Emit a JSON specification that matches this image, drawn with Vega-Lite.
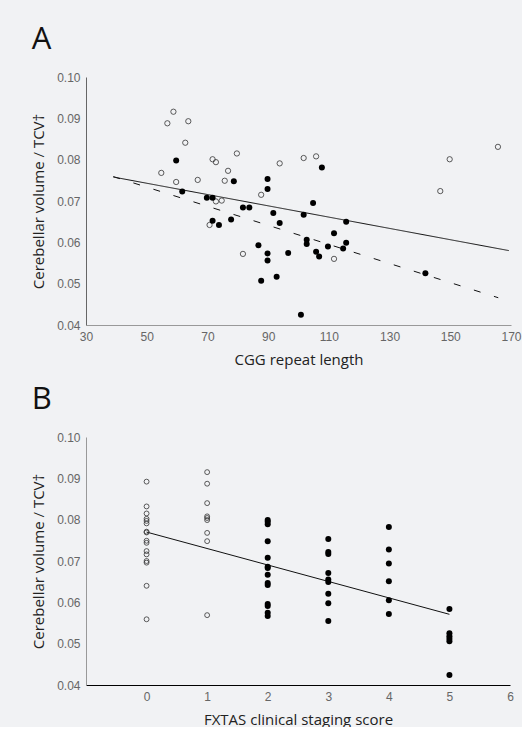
{
  "$schema": "https://vega.github.io/schema/vega-lite/v6.json",
  "background": "#f1f2f4",
  "padding": {"left": 31, "top": 24, "right": 0, "bottom": 0},
  "spacing": 17,
  "config": {
    "view": {"stroke": null},
    "font": "Open Sans",
    "axis": {
      "grid": false, "ticks": false, "labelFlush": false,
      "labelFont": "Liberation Sans", "labelFontSize": 12, "labelColor": "#666", "labelPadding": 6,
      "titleFont": "Open Sans", "titleFontWeight": "normal", "titleFontSize": 15, "titleColor": "#222", "titlePadding": 10,
      "domainColor": "#777", "domainWidth": 1
    },
    "title": {"fontSize": 31, "fontWeight": "normal", "anchor": "start", "frame": "bounds", "color": "#111", "font": "Open Sans"}
  },
  "datasets": {
    "cgg": [
      {"cgg": 54.8, "v": 0.0768, "g": "open"},
      {"cgg": 56.8, "v": 0.0888, "g": "open"},
      {"cgg": 58.8, "v": 0.0916, "g": "open"},
      {"cgg": 59.7, "v": 0.0746, "g": "open"},
      {"cgg": 62.7, "v": 0.0841, "g": "open"},
      {"cgg": 63.7, "v": 0.0893, "g": "open"},
      {"cgg": 66.8, "v": 0.0751, "g": "open"},
      {"cgg": 70.7, "v": 0.0642, "g": "open"},
      {"cgg": 71.7, "v": 0.0801, "g": "open"},
      {"cgg": 72.8, "v": 0.0794, "g": "open"},
      {"cgg": 72.8, "v": 0.0699, "g": "open"},
      {"cgg": 74.7, "v": 0.0701, "g": "open"},
      {"cgg": 75.7, "v": 0.0749, "g": "open"},
      {"cgg": 76.8, "v": 0.0773, "g": "open"},
      {"cgg": 79.7, "v": 0.0815, "g": "open"},
      {"cgg": 81.7, "v": 0.0572, "g": "open"},
      {"cgg": 87.7, "v": 0.0715, "g": "open"},
      {"cgg": 93.8, "v": 0.0791, "g": "open"},
      {"cgg": 101.7, "v": 0.0804, "g": "open"},
      {"cgg": 105.8, "v": 0.0808, "g": "open"},
      {"cgg": 111.7, "v": 0.0560, "g": "open"},
      {"cgg": 146.7, "v": 0.0724, "g": "open"},
      {"cgg": 149.8, "v": 0.0801, "g": "open"},
      {"cgg": 165.7, "v": 0.0831, "g": "open"},
      {"cgg": 59.7, "v": 0.0798, "g": "filled"},
      {"cgg": 61.7, "v": 0.0723, "g": "filled"},
      {"cgg": 69.8, "v": 0.0708, "g": "filled"},
      {"cgg": 71.7, "v": 0.0708, "g": "filled"},
      {"cgg": 71.7, "v": 0.0652, "g": "filled"},
      {"cgg": 73.8, "v": 0.0642, "g": "filled"},
      {"cgg": 77.8, "v": 0.0655, "g": "filled"},
      {"cgg": 78.7, "v": 0.0748, "g": "filled"},
      {"cgg": 81.7, "v": 0.0684, "g": "filled"},
      {"cgg": 83.8, "v": 0.0684, "g": "filled"},
      {"cgg": 86.8, "v": 0.0593, "g": "filled"},
      {"cgg": 87.7, "v": 0.0507, "g": "filled"},
      {"cgg": 89.8, "v": 0.0753, "g": "filled"},
      {"cgg": 89.8, "v": 0.0729, "g": "filled"},
      {"cgg": 89.8, "v": 0.0573, "g": "filled"},
      {"cgg": 89.8, "v": 0.0556, "g": "filled"},
      {"cgg": 91.7, "v": 0.0671, "g": "filled"},
      {"cgg": 92.8, "v": 0.0517, "g": "filled"},
      {"cgg": 93.8, "v": 0.0647, "g": "filled"},
      {"cgg": 96.6, "v": 0.0574, "g": "filled"},
      {"cgg": 100.8, "v": 0.0425, "g": "filled"},
      {"cgg": 101.7, "v": 0.0667, "g": "filled"},
      {"cgg": 102.7, "v": 0.0606, "g": "filled"},
      {"cgg": 102.7, "v": 0.0596, "g": "filled"},
      {"cgg": 104.8, "v": 0.0695, "g": "filled"},
      {"cgg": 105.8, "v": 0.0577, "g": "filled"},
      {"cgg": 106.8, "v": 0.0566, "g": "filled"},
      {"cgg": 107.7, "v": 0.0781, "g": "filled"},
      {"cgg": 109.7, "v": 0.0590, "g": "filled"},
      {"cgg": 111.7, "v": 0.0622, "g": "filled"},
      {"cgg": 114.7, "v": 0.0585, "g": "filled"},
      {"cgg": 115.7, "v": 0.0650, "g": "filled"},
      {"cgg": 115.7, "v": 0.0599, "g": "filled"},
      {"cgg": 141.8, "v": 0.0525, "g": "filled"}
    ],
    "cggFit": [
      {"cgg": 39, "v": 0.0758, "fit": "all"},
      {"cgg": 169.3, "v": 0.0580, "fit": "all"},
      {"cgg": 39, "v": 0.0759, "fit": "dashed"},
      {"cgg": 165.8, "v": 0.0466, "fit": "dashed"}
    ],
    "stage": [
      {"s": 0, "v": 0.0892, "g": "open"},
      {"s": 0, "v": 0.0832, "g": "open"},
      {"s": 0, "v": 0.0815, "g": "open"},
      {"s": 0, "v": 0.0802, "g": "open"},
      {"s": 0, "v": 0.0797, "g": "open"},
      {"s": 0, "v": 0.0791, "g": "open"},
      {"s": 0, "v": 0.0771, "g": "open"},
      {"s": 0, "v": 0.0769, "g": "open"},
      {"s": 0, "v": 0.0749, "g": "open"},
      {"s": 0, "v": 0.0744, "g": "open"},
      {"s": 0, "v": 0.0724, "g": "open"},
      {"s": 0, "v": 0.0716, "g": "open"},
      {"s": 0, "v": 0.0700, "g": "open"},
      {"s": 0, "v": 0.0696, "g": "open"},
      {"s": 0, "v": 0.0640, "g": "open"},
      {"s": 0, "v": 0.0559, "g": "open"},
      {"s": 1, "v": 0.0915, "g": "open"},
      {"s": 1, "v": 0.0887, "g": "open"},
      {"s": 1, "v": 0.0840, "g": "open"},
      {"s": 1, "v": 0.0808, "g": "open"},
      {"s": 1, "v": 0.0804, "g": "open"},
      {"s": 1, "v": 0.0799, "g": "open"},
      {"s": 1, "v": 0.0768, "g": "open"},
      {"s": 1, "v": 0.0748, "g": "open"},
      {"s": 1, "v": 0.0569, "g": "open"},
      {"s": 2, "v": 0.0799, "g": "filled"},
      {"s": 2, "v": 0.0795, "g": "filled"},
      {"s": 2, "v": 0.0789, "g": "filled"},
      {"s": 2, "v": 0.0748, "g": "filled"},
      {"s": 2, "v": 0.0708, "g": "filled"},
      {"s": 2, "v": 0.0686, "g": "filled"},
      {"s": 2, "v": 0.0683, "g": "filled"},
      {"s": 2, "v": 0.0667, "g": "filled"},
      {"s": 2, "v": 0.0647, "g": "filled"},
      {"s": 2, "v": 0.0642, "g": "filled"},
      {"s": 2, "v": 0.0596, "g": "filled"},
      {"s": 2, "v": 0.0591, "g": "filled"},
      {"s": 2, "v": 0.0575, "g": "filled"},
      {"s": 2, "v": 0.0567, "g": "filled"},
      {"s": 3, "v": 0.0753, "g": "filled"},
      {"s": 3, "v": 0.0722, "g": "filled"},
      {"s": 3, "v": 0.0717, "g": "filled"},
      {"s": 3, "v": 0.0671, "g": "filled"},
      {"s": 3, "v": 0.0655, "g": "filled"},
      {"s": 3, "v": 0.0649, "g": "filled"},
      {"s": 3, "v": 0.0621, "g": "filled"},
      {"s": 3, "v": 0.0598, "g": "filled"},
      {"s": 3, "v": 0.0555, "g": "filled"},
      {"s": 4, "v": 0.0782, "g": "filled"},
      {"s": 4, "v": 0.0728, "g": "filled"},
      {"s": 4, "v": 0.0694, "g": "filled"},
      {"s": 4, "v": 0.0651, "g": "filled"},
      {"s": 4, "v": 0.0605, "g": "filled"},
      {"s": 4, "v": 0.0572, "g": "filled"},
      {"s": 5, "v": 0.0584, "g": "filled"},
      {"s": 5, "v": 0.0525, "g": "filled"},
      {"s": 5, "v": 0.0518, "g": "filled"},
      {"s": 5, "v": 0.0512, "g": "filled"},
      {"s": 5, "v": 0.0506, "g": "filled"},
      {"s": 5, "v": 0.0424, "g": "filled"}
    ],
    "stageFit": [
      {"s": 0, "v": 0.0770},
      {"s": 5, "v": 0.0571}
    ]
  },
  "vconcat": [
    {
      "title": {"text": "A", "offset": 15},
      "width": 425,
      "height": 248,
      "layer": [
        {
          "data": {"name": "cggFit"},
          "mark": {"type": "line", "color": "#111", "strokeWidth": 1},
          "encoding": {
            "x": {"field": "cgg", "type": "quantitative"},
            "y": {"field": "v", "type": "quantitative"},
            "detail": {"field": "fit"},
            "strokeDash": {"field": "fit", "type": "nominal", "scale": {"domain": ["all", "dashed"], "range": [[1, 0], [7, 14]]}, "legend": null}
          }
        },
        {
          "data": {"name": "cgg"},
          "transform": [{"filter": "datum.g == 'open'"}],
          "mark": {"type": "point", "shape": "circle", "filled": false, "color": "#333", "strokeWidth": 0.8, "size": 28, "opacity": 1},
          "encoding": {
            "x": {"field": "cgg", "type": "quantitative"},
            "y": {"field": "v", "type": "quantitative"}
          }
        },
        {
          "data": {"name": "cgg"},
          "transform": [{"filter": "datum.g == 'filled'"}],
          "mark": {"type": "circle", "color": "#000", "size": 36, "opacity": 1},
          "encoding": {
            "x": {"field": "cgg", "type": "quantitative", "title": "CGG repeat length",
                  "scale": {"domain": [30, 170], "nice": false, "zero": false},
                  "axis": {"values": [30, 50, 70, 90, 110, 130, 150, 170], "domainColor": "#999"}},
            "y": {"field": "v", "type": "quantitative", "title": "Cerebellar volume / TCV\u2020",
                  "scale": {"domain": [0.04, 0.10], "nice": false, "zero": false},
                  "axis": {"values": [0.04, 0.05, 0.06, 0.07, 0.08, 0.09, 0.10], "format": ".2f", "domainColor": "#666"}}
          }
        }
      ]
    },
    {
      "title": {"text": "B", "offset": 15},
      "width": 424,
      "height": 248,
      "layer": [
        {
          "data": {"name": "stageFit"},
          "mark": {"type": "line", "color": "#111", "strokeWidth": 1},
          "encoding": {
            "x": {"field": "s", "type": "quantitative"},
            "y": {"field": "v", "type": "quantitative"}
          }
        },
        {
          "data": {"name": "stage"},
          "transform": [{"filter": "datum.g == 'open'"}],
          "mark": {"type": "point", "shape": "circle", "filled": false, "color": "#333", "strokeWidth": 0.8, "size": 24, "opacity": 1},
          "encoding": {
            "x": {"field": "s", "type": "quantitative"},
            "y": {"field": "v", "type": "quantitative"}
          }
        },
        {
          "data": {"name": "stage"},
          "transform": [{"filter": "datum.g == 'filled'"}],
          "mark": {"type": "circle", "color": "#000", "size": 36, "opacity": 1},
          "encoding": {
            "x": {"field": "s", "type": "quantitative", "title": "FXTAS clinical staging score",
                  "scale": {"domain": [-1, 6], "nice": false, "zero": false},
                  "axis": {"values": [0, 1, 2, 3, 4, 5, 6], "format": "d", "domainColor": "#000"}},
            "y": {"field": "v", "type": "quantitative", "title": "Cerebellar volume / TCV\u2020",
                  "scale": {"domain": [0.04, 0.10], "nice": false, "zero": false},
                  "axis": {"values": [0.04, 0.05, 0.06, 0.07, 0.08, 0.09, 0.10], "format": ".2f", "domainColor": "#999"}}
          }
        }
      ]
    }
  ]
}
